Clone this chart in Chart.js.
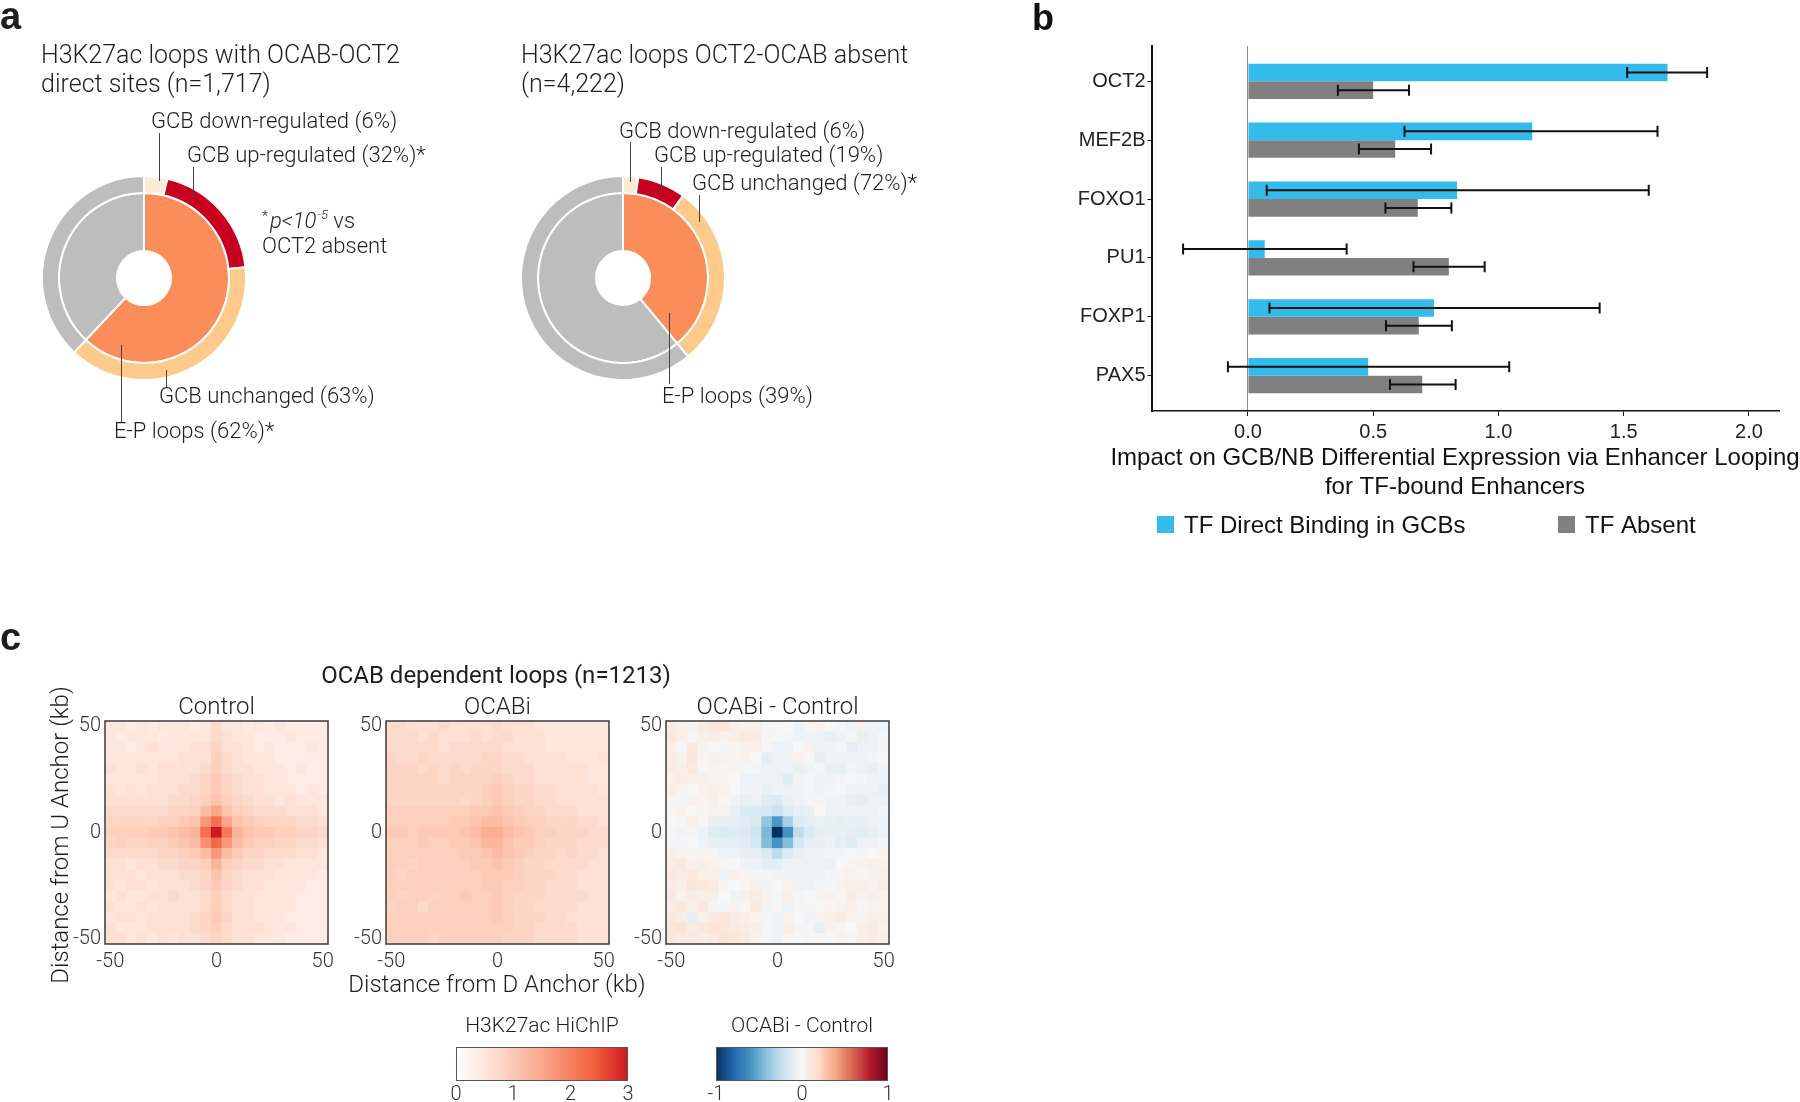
<!DOCTYPE html>
<html>
<head>
<meta charset="utf-8">
<title>OCAB-OCT2 looping</title>
<script src="https://cdn.jsdelivr.net/npm/chart.js@4.4.1/dist/chart.umd.min.js"></script>
<style>
  body { margin: 0; width: 1800px; height: 1102px; background: #fff; position: relative; overflow: hidden; }
  canvas { position: absolute; }
</style>
</head>
<body>
<canvas id="textC" width="920" height="420" style="left:0;top:600px"></canvas>
<canvas id="donutDirect" width="460" height="460" style="left:0;top:0"></canvas>
<canvas id="donutAbsent" width="480" height="460" style="left:460px;top:0"></canvas>
<canvas id="barsB" width="770" height="560" style="left:1030px;top:0"></canvas>
<canvas id="heatControl" width="270" height="310" style="left:65px;top:680px"></canvas>
<canvas id="heatOcabi" width="270" height="310" style="left:346px;top:680px"></canvas>
<canvas id="heatDiff" width="270" height="310" style="left:626px;top:680px"></canvas>
<canvas id="barRed" width="210" height="92" style="left:440px;top:1010px"></canvas>
<canvas id="barRdBu" width="210" height="92" style="left:700px;top:1010px"></canvas>
<script>
const LIGHT = 'Roboto';
const INK = '#1e1e1e';

// ---- panel a : loop categories (%) ----
const ringNames = ['GCB down-regulated', 'GCB up-regulated', 'GCB unchanged', 'not E-P'];
const epDirect = [62, 38];        // E-P loops, other loops
const gcbDirect = [6, 32, 63];    // down, up, unchanged (within E-P loops)
const epAbsent = [39, 61];
const gcbAbsent = [6, 19, 72];
const innerColors = ['#fa8d5a', '#bdbdbd'];
const outerColors = ['#fdebd5', '#c8001f', '#fdca8c', '#bdbdbd'];

// ---- panel b : impact on expression ----
const tfNames = ['OCT2', 'MEF2B', 'FOXO1', 'PU1', 'FOXP1', 'PAX5'];
const directMean = [1.675, 1.135, 0.835, 0.067, 0.743, 0.480];
const directLow  = [1.514, 0.625, 0.075, -0.259, 0.086, -0.080];
const directHigh = [1.833, 1.635, 1.600, 0.394, 1.404, 1.043];
const absentMean = [0.500, 0.588, 0.678, 0.802, 0.682, 0.696];
const absentLow  = [0.359, 0.443, 0.549, 0.661, 0.551, 0.567];
const absentHigh = [0.643, 0.731, 0.812, 0.945, 0.814, 0.829];
const xTicksB = [0, 0.5, 1, 1.5, 2];

// ---- panel c : aggregate peak analysis, 5 kb bins ----
const binCenters = [-50, -45, -40, -35, -30, -25, -20, -15, -10, -5, 0, 5, 10, 15, 20, 25, 30, 35, 40, 45, 50];
const axisTicksC = [-50, 0, 50];
// rows from top (U anchor +50) to bottom (-50); values in tenths
const controlTenths = [
  [5,5,4,5,4,5,5,5,4,5,7,5,5,4,5,4,5,4,4,4,4],
  [5,4,5,5,5,4,5,5,5,5,7,6,5,5,4,4,4,5,4,4,4],
  [5,5,4,5,6,5,5,5,6,6,8,6,6,5,4,5,4,4,4,5,4],
  [5,5,5,5,5,5,5,6,6,6,9,7,6,5,5,5,4,4,4,4,4],
  [6,5,5,6,5,6,6,6,6,7,9,7,6,6,5,5,5,4,5,4,4],
  [5,5,5,5,5,6,6,6,7,8,10,8,7,6,6,5,5,4,4,4,4],
  [6,5,6,5,6,6,6,7,7,8,10,8,7,6,6,5,5,5,4,5,4],
  [6,6,6,6,6,6,7,7,8,9,11,9,8,7,6,6,5,6,5,5,5],
  [7,7,7,7,7,7,8,8,9,12,15,11,9,8,7,7,7,6,6,6,5],
  [8,8,8,8,8,9,9,10,11,17,22,15,11,10,9,8,8,8,7,7,6],
  [9,9,9,9,10,10,11,12,13,22,30,21,13,11,10,10,9,9,8,8,7],
  [8,9,8,8,9,9,10,11,12,18,23,17,12,10,9,9,8,8,7,7,6],
  [7,7,7,7,7,8,8,9,10,12,17,12,10,8,8,7,7,7,6,6,5],
  [6,6,5,6,6,7,7,8,8,9,13,9,8,7,7,6,6,5,5,5,5],
  [6,6,6,5,6,6,6,7,7,8,11,8,7,6,6,6,5,5,5,5,4],
  [6,5,6,6,5,6,6,6,7,8,10,8,7,6,6,5,5,5,5,4,4],
  [5,6,5,5,6,6,7,6,6,7,9,7,6,6,5,5,5,5,4,4,4],
  [6,5,5,6,5,6,6,6,6,7,9,7,6,6,5,5,5,5,4,4,4],
  [5,6,6,5,6,6,6,6,7,8,10,8,6,6,5,5,5,4,4,4,4],
  [6,5,5,5,6,6,6,6,7,8,9,7,6,6,6,5,5,5,4,4,4],
  [6,6,5,6,5,6,5,6,6,7,8,7,6,6,5,5,5,4,4,4,4]
];
const ocabiTenths = [
  [7,7,6,6,6,7,6,6,6,6,7,6,6,6,5,5,5,5,5,5,5],
  [7,7,7,6,7,6,6,6,7,6,7,7,6,6,6,5,5,5,5,5,5],
  [7,7,7,7,7,6,7,7,7,7,7,6,6,6,6,5,5,5,5,5,5],
  [8,7,7,8,7,7,7,7,7,8,8,7,7,6,6,6,6,5,5,5,6],
  [8,8,8,7,8,7,8,7,8,8,8,7,7,7,6,6,6,6,6,5,5],
  [8,8,8,8,8,7,8,8,8,8,9,8,7,7,6,6,6,6,6,5,5],
  [8,8,8,8,8,8,8,8,8,9,10,9,8,8,7,7,6,6,6,6,5],
  [8,8,8,8,8,8,8,7,8,9,10,9,8,8,7,7,6,6,6,6,6],
  [9,9,9,9,9,9,9,9,10,10,11,10,9,8,8,7,7,7,6,6,6],
  [9,9,9,9,9,9,10,10,11,12,12,11,10,9,9,8,8,8,7,7,6],
  [10,10,9,10,10,10,10,11,12,14,14,12,11,10,9,9,8,8,8,7,7],
  [9,9,9,10,9,9,10,10,11,13,13,11,10,10,9,8,8,8,7,7,7],
  [9,9,9,9,9,9,9,10,10,11,12,11,10,9,8,8,7,8,7,7,6],
  [9,9,8,9,9,9,9,9,10,10,11,10,9,8,8,7,7,7,7,6,6],
  [9,8,9,9,9,9,9,9,9,10,10,10,9,8,8,8,7,7,6,6,6],
  [9,9,9,9,9,9,9,9,9,10,10,9,9,8,8,7,7,7,6,6,6],
  [9,8,9,9,8,9,9,10,9,9,10,9,8,8,8,7,7,7,7,6,6],
  [8,9,9,7,9,9,9,9,9,9,10,9,8,8,7,7,7,7,6,6,6],
  [9,9,9,9,9,9,9,9,9,9,10,9,8,8,8,7,7,6,6,6,6],
  [9,9,9,9,9,9,9,9,9,9,9,9,8,8,7,7,7,7,6,6,6],
  [9,9,9,9,8,9,9,9,9,9,9,8,8,8,7,7,7,7,6,6,6]
];
// OCABi - Control, values in hundredths
const diffHundredths = [
  [8,6,4,8,12,12,6,4,6,2,-2,0,-6,2,4,0,-2,-4,4,-4,-6],
  [10,6,2,6,8,4,6,10,8,2,0,-2,-4,-4,-6,-8,-4,-2,-8,-4,-2],
  [6,-2,10,4,0,-2,2,4,6,2,-6,-4,0,4,-6,-4,-2,-10,-6,-4,-2],
  [8,4,12,2,6,4,2,4,0,-10,-6,-4,4,-2,-8,-4,-6,-6,-4,-2,0],
  [8,6,10,2,4,2,2,-2,-2,-4,-6,-4,-8,-4,-2,-8,-8,-2,-6,-8,-4],
  [4,8,6,6,4,2,0,-6,-6,-4,-6,-12,-4,-2,-4,-4,-2,0,-2,-4,-6],
  [6,2,0,4,6,4,0,-4,-4,-8,-6,-6,-4,-2,-4,-2,0,-4,-6,-6,-8],
  [2,-2,4,2,6,2,-4,-8,-6,-12,-14,-8,-6,-2,2,-4,-4,-8,-10,-4,-6],
  [2,4,0,2,4,4,-8,-14,-16,-18,-22,-14,-10,-8,0,-4,-6,-4,-6,-4,-2],
  [0,-2,6,-2,-8,-8,-10,-12,-16,-40,-58,-33,-14,-10,-8,-8,-10,-8,-10,-6,-4],
  [-2,-4,-2,-6,-12,-14,-12,-14,-20,-45,-100,-60,-25,-14,-10,-8,-8,-10,-12,-8,-6],
  [-2,-2,0,-4,-8,-10,-10,-12,-18,-43,-60,-43,-18,-10,-8,-6,-10,-12,-6,-4,-2],
  [6,4,2,2,-2,-4,-4,-8,-10,-15,-26,-14,-8,-4,-4,-2,-2,0,-2,0,2],
  [8,10,4,6,4,2,0,-4,-6,-10,-10,-6,-4,-6,-4,-6,0,2,4,6,4],
  [10,8,10,6,6,-4,4,2,-2,-2,-4,-6,-4,-4,-4,-2,2,4,2,4,6],
  [8,6,12,10,8,2,0,2,6,-4,0,4,-4,-4,-2,-2,4,6,6,4,8],
  [10,4,8,6,6,0,-4,6,8,4,-2,6,-2,0,2,4,2,8,4,6,4],
  [8,10,6,10,2,-2,4,2,10,-4,2,-6,2,-2,0,2,4,6,2,4,4],
  [10,8,-10,6,10,12,8,6,2,-2,-4,4,0,-4,4,6,8,4,2,6,6],
  [12,14,8,12,14,12,10,8,6,-2,-6,6,2,-2,-8,4,2,0,6,8,4],
  [12,10,10,8,10,14,12,10,4,-2,-6,2,0,-2,2,-2,4,2,6,8,6]
];
const redStops = [[0, '#ffffff'], [0.5, '#fee6dc'], [1, '#fccab5'], [1.5, '#faa78b'], [2, '#f7805f'], [2.4, '#f2603f'], [3, '#cb181d']];
const rdbuStops = [[-1, '#053061'], [-0.8, '#2166ac'], [-0.6, '#4393c3'], [-0.4, '#92c5de'], [-0.2, '#d1e5f0'], [0, '#f7f7f7'],
                   [0.2, '#fddbc7'], [0.4, '#f4a582'], [0.6, '#d6604d'], [0.8, '#b2182b'], [1, '#67001f']];

function hexRgb(h) {
  const n = parseInt(h.slice(1), 16);
  return [(n >> 16) & 255, (n >> 8) & 255, n & 255];
}
function colorAt(stops, v) {
  if (v <= stops[0][0]) return stops[0][1];
  for (let i = 1; i < stops.length; i++) {
    if (v <= stops[i][0]) {
      const [a, ca] = stops[i - 1], [b, cb] = stops[i];
      const t = (v - a) / (b - a), p = hexRgb(ca), q = hexRgb(cb);
      return 'rgb(' + p.map((x, k) => Math.round(x + (q[k] - x) * t)).join(',') + ')';
    }
  }
  return stops[stops.length - 1][1];
}

// outer ring: GCB split of the E-P share, then the non E-P share
function outerRing(ep, gcb) {
  const total = gcb.reduce((s, v) => s + v, 0);
  return gcb.map(v => v / total * ep[0]).concat([ep[1]]);
}

function notesPlugin(notes) {
  return {
    id: 'notes',
    afterDraw(chart) {
      const ctx = chart.ctx;
      ctx.save();
      ctx.strokeStyle = '#444';
      ctx.lineWidth = 1;
      notes.lines.forEach(([x, y1, y2]) => {
        ctx.beginPath(); ctx.moveTo(x + 0.5, y1); ctx.lineTo(x + 0.5, y2); ctx.stroke();
      });
      ctx.fillStyle = INK;
      ctx.textBaseline = 'alphabetic';
      notes.texts.forEach(t => { ctx.font = t.font; ctx.fillText(t.s, t.x, t.y); });
      if (notes.extra) notes.extra(ctx);
      ctx.restore();
    }
  };
}

function donut(id, ep, gcb, pad, notes) {
  return new Chart(document.getElementById(id), {
    type: 'doughnut',
    data: {
      labels: ringNames,
      datasets: [
        { data: outerRing(ep, gcb), backgroundColor: outerColors, borderColor: '#fff', borderWidth: 2, weight: 17 },
        { data: ep, backgroundColor: innerColors, borderColor: '#fff', borderWidth: 2, weight: 58 }
      ]
    },
    options: {
      responsive: false, animation: false, events: [],
      cutout: '26.5%',
      layout: { padding: pad },
      plugins: { legend: { display: false }, tooltip: { enabled: false } }
    },
    plugins: [notesPlugin(notes)]
  });
}

const T25 = '300 25px ' + LIGHT, T22 = '300 22px ' + LIGHT;

donut('donutDirect', epDirect, gcbDirect, { left: 41, top: 175, right: 213, bottom: 79 }, {
  lines: [[159, 133, 181], [193, 167, 197], [166, 370, 388], [121, 345, 422]],
  texts: [
    { s: 'a', x: 0, y: 29, font: 'bold 38px "Liberation Sans"' },
    { s: 'H3K27ac loops with OCAB-OCT2', x: 41, y: 63, font: T25 },
    { s: 'direct sites (n=1,717)', x: 41, y: 92, font: T25 },
    { s: 'GCB down-regulated (' + gcbDirect[0] + '%)', x: 151, y: 128, font: T22 },
    { s: 'GCB up-regulated (' + gcbDirect[1] + '%)*', x: 187, y: 162, font: T22 },
    { s: 'OCT2 absent', x: 262, y: 253, font: T22 },
    { s: 'GCB unchanged (' + gcbDirect[2] + '%)', x: 159, y: 403, font: T22 },
    { s: 'E-P loops (' + epDirect[0] + '%)*', x: 114, y: 438, font: T22 }
  ],
  extra(ctx) {
    let x = 262;
    const y = 228;
    ctx.font = '300 14px ' + LIGHT; ctx.fillText('*', x, y - 7); x += ctx.measureText('*').width + 2;
    ctx.font = 'italic 300 22px ' + LIGHT; ctx.fillText('p<10', x, y); x += ctx.measureText('p<10').width + 1;
    ctx.font = 'italic 300 13px ' + LIGHT; ctx.fillText('-5', x, y - 9); x += ctx.measureText('-5').width;
    ctx.font = T22; ctx.fillText(' vs', x, y);
  }
});

donut('donutAbsent', epAbsent, gcbAbsent, { left: 60, top: 175, right: 214, bottom: 79 }, {
  lines: [[170, 142, 182], [201, 167, 193], [239, 195, 222], [209, 313, 384]],
  texts: [
    { s: 'H3K27ac loops OCT2-OCAB absent', x: 61, y: 63, font: T25 },
    { s: '(n=4,222)', x: 61, y: 92, font: T25 },
    { s: 'GCB down-regulated (' + gcbAbsent[0] + '%)', x: 159, y: 138, font: T22 },
    { s: 'GCB up-regulated (' + gcbAbsent[1] + '%)', x: 194, y: 162, font: T22 },
    { s: 'GCB unchanged (' + gcbAbsent[2] + '%)*', x: 232, y: 190, font: T22 },
    { s: 'E-P loops (' + epAbsent[0] + '%)', x: 202, y: 403, font: T22 }
  ]
});

// ---- panel b ----
const bFont = { family: 'Liberation Sans', size: 20 };
const errorRanges = [[directLow, directHigh], [absentLow, absentHigh]];

const panelB = {
  id: 'panelB',
  afterDatasetsDraw(chart) {
    const ctx = chart.ctx, xs = chart.scales.x;
    ctx.save();
    ctx.strokeStyle = '#111';
    ctx.lineWidth = 2;
    chart.data.datasets.forEach((ds, di) => {
      chart.getDatasetMeta(di).data.forEach((bar, i) => {
        const x1 = xs.getPixelForValue(errorRanges[di][0][i]);
        const x2 = xs.getPixelForValue(errorRanges[di][1][i]);
        const y = bar.y;
        ctx.beginPath();
        ctx.moveTo(x1, y); ctx.lineTo(x2, y);
        ctx.moveTo(x1, y - 5.5); ctx.lineTo(x1, y + 5.5);
        ctx.moveTo(x2, y - 5.5); ctx.lineTo(x2, y + 5.5);
        ctx.stroke();
      });
    });
    ctx.restore();
  },
  afterDraw(chart) {
    const ctx = chart.ctx;
    ctx.save();
    ctx.fillStyle = '#111';
    ctx.font = 'bold 36px "Liberation Sans"';
    ctx.fillText('b', 2, 30);
    ctx.font = '24px "Liberation Sans"';
    ctx.textAlign = 'center';
    ctx.fillText('Impact on GCB/NB Differential Expression via Enhancer Looping', 425, 465);
    ctx.fillText('for TF-bound Enhancers', 425, 494);
    ctx.textAlign = 'left';
    const legendX = [127, 528];
    chart.data.datasets.forEach((ds, i) => {
      ctx.fillStyle = ds.backgroundColor;
      ctx.fillRect(legendX[i], 516, 17, 17);
      ctx.fillStyle = '#111';
      ctx.fillText(ds.label, legendX[i] + 27, 533);
    });
    ctx.restore();
  }
};

new Chart(document.getElementById('barsB'), {
  type: 'bar',
  data: {
    datasets: [
      { label: 'TF Direct Binding in GCBs', data: directMean.map((v, i) => ({ x: v, y: i })),
        backgroundColor: '#33bbeb', categoryPercentage: 0.6, barPercentage: 1 },
      { label: 'TF Absent', data: absentMean.map((v, i) => ({ x: v, y: i })),
        backgroundColor: '#808080', categoryPercentage: 0.6, barPercentage: 1 }
    ]
  },
  options: {
    indexAxis: 'y',
    responsive: false, animation: false, events: [],
    layout: { padding: { top: 46, right: 21, left: 0, bottom: 0 } },
    scales: {
      x: {
        type: 'linear', min: -0.385, max: 2.12,
        afterBuildTicks: s => { s.ticks = xTicksB.map(v => ({ value: v })); },
        afterFit: s => { s.height = 149; s.paddingLeft = 0; s.paddingRight = 0; },
        ticks: { font: bFont, color: '#222', padding: 4, maxRotation: 0, callback: v => v.toFixed(1) },
        grid: { color: c => (c.tick && c.tick.value === 0) ? '#8c8c8c' : 'rgba(0,0,0,0)', tickColor: '#111', tickLength: 5, lineWidth: 1 },
        border: { display: true, color: '#111', width: 1.5 }
      },
      y: {
        type: 'linear', reverse: true, min: -0.6, max: 5.6, offset: false,
        afterBuildTicks: s => { s.ticks = tfNames.map((n, i) => ({ value: i })); },
        afterFit: s => { s.width = 121.5; s.paddingTop = 0; s.paddingBottom = 0; },
        ticks: { font: bFont, color: '#222', padding: 2, callback: v => tfNames[v] },
        grid: { offset: false, drawOnChartArea: false, tickColor: '#111', tickLength: 4 },
        border: { display: true, color: '#111', width: 2 }
      }
    },
    plugins: { legend: { display: false }, tooltip: { enabled: false } }
  },
  plugins: [panelB]
});

// ---- panel c ----
function heatmap(id, matrix, unit, stops, title) {
  const points = [];
  matrix.forEach((row, r) => row.forEach((v, c) => {
    points.push({ x: binCenters[c], y: binCenters[binCenters.length - 1 - r], v: v / unit });
  }));
  const cellRadius = c => {
    const xs = c.chart.scales.x;
    return (Math.abs(xs.getPixelForValue(5) - xs.getPixelForValue(0)) + 0.6) / Math.SQRT2;
  };
  const tickFont = { family: LIGHT, size: 20, weight: 300 };
  return new Chart(document.getElementById(id), {
    type: 'scatter',
    data: {
      datasets: [{
        data: points,
        pointStyle: 'rect',
        pointRadius: cellRadius,
        pointHoverRadius: cellRadius,
        pointBorderWidth: 0,
        pointBackgroundColor: c => colorAt(stops, c.raw.v)
      }]
    },
    options: {
      responsive: false, animation: false, events: [],
      layout: { padding: { top: 41, right: 7, left: 0, bottom: 0 } },
      scales: {
        x: {
          type: 'linear', min: -52.5, max: 52.5,
          afterBuildTicks: s => { s.ticks = axisTicksC.map(v => ({ value: v })); },
          afterFit: s => { s.height = 46; s.paddingLeft = 0; s.paddingRight = 0; },
          grid: { display: false, drawTicks: false }, border: { display: false },
          ticks: { font: tickFont, color: '#333', padding: 6, maxRotation: 0, autoSkip: false }
        },
        y: {
          type: 'linear', min: -52.5, max: 52.5,
          afterBuildTicks: s => { s.ticks = axisTicksC.map(v => ({ value: v })); },
          afterFit: s => { s.width = 40; s.paddingTop = 0; s.paddingBottom = 0; },
          grid: { display: false, drawTicks: false }, border: { display: false },
          ticks: { font: tickFont, color: '#333', padding: 4, autoSkip: false }
        }
      },
      plugins: { legend: { display: false }, tooltip: { enabled: false } }
    },
    plugins: [{
      id: 'frame',
      afterDatasetsDraw(chart) {
        const a = chart.chartArea, ctx = chart.ctx;
        ctx.save();
        ctx.strokeStyle = '#3a3a3a';
        ctx.lineWidth = 1.5;
        ctx.strokeRect(a.left, a.top, a.right - a.left, a.bottom - a.top);
        ctx.font = '300 24px ' + LIGHT;
        ctx.fillStyle = INK;
        ctx.textAlign = 'center';
        ctx.fillText(title, (a.left + a.right) / 2, a.top - 7);
        ctx.restore();
      }
    }]
  });
}

heatmap('heatControl', controlTenths, 10, redStops, 'Control');
heatmap('heatOcabi', ocabiTenths, 10, redStops, 'OCABi');
heatmap('heatDiff', diffHundredths, 100, rdbuStops, 'OCABi - Control');

function colorbar(id, stops, ticks, title) {
  const lo = ticks[0], hi = ticks[ticks.length - 1];
  return new Chart(document.getElementById(id), {
    type: 'bar',
    data: {
      labels: [title],
      datasets: [{
        data: [[lo, hi]], barPercentage: 1, categoryPercentage: 1, borderWidth: 0,
        backgroundColor: c => {
          const a = c.chart.chartArea;
          if (!a) return '#fff';
          const g = c.chart.ctx.createLinearGradient(a.left, 0, a.right, 0);
          stops.forEach(([v, col]) => g.addColorStop((v - lo) / (hi - lo), col));
          return g;
        }
      }]
    },
    options: {
      indexAxis: 'y',
      responsive: false, animation: false, events: [],
      layout: { padding: { top: 37, left: 16, right: 22, bottom: 0 } },
      scales: {
        x: {
          type: 'linear', min: lo, max: hi,
          afterBuildTicks: s => { s.ticks = ticks.map(v => ({ value: v })); },
          afterFit: s => { s.height = 21; s.paddingLeft = 0; s.paddingRight = 0; },
          grid: { display: false, drawTicks: false }, border: { display: false },
          ticks: { font: { family: LIGHT, size: 20, weight: 300 }, color: '#333', padding: 2 }
        },
        y: { display: false }
      },
      plugins: { legend: { display: false }, tooltip: { enabled: false } }
    },
    plugins: [{
      id: 'cbFrame',
      afterDatasetsDraw(chart) {
        const a = chart.chartArea, ctx = chart.ctx;
        ctx.save();
        ctx.strokeStyle = '#555';
        ctx.lineWidth = 1;
        ctx.strokeRect(a.left + 0.5, a.top + 0.5, a.right - a.left - 1, a.bottom - a.top - 1);
        ctx.font = '300 21px ' + LIGHT;
        ctx.fillStyle = INK;
        ctx.textAlign = 'center';
        ctx.fillText(title, (a.left + a.right) / 2, a.top - 15);
        ctx.restore();
      }
    }]
  });
}

colorbar('barRed', redStops, [0, 1, 2, 3], 'H3K27ac HiChIP');
colorbar('barRdBu', rdbuStops, [-1, 0, 1], 'OCABi - Control');

// loose panel c text
const tc = document.getElementById('textC').getContext('2d');
tc.fillStyle = INK;
tc.font = 'bold 38px "Liberation Sans"';
tc.fillText('c', 0, 50);
tc.textAlign = 'center';
tc.font = '400 24px ' + LIGHT;
tc.fillText('OCAB dependent loops (n=1213)', 496, 83);
tc.font = '300 24px ' + LIGHT;
tc.fillText('Distance from D Anchor (kb)', 497, 392);
tc.save();
tc.translate(68, 235);
tc.rotate(-Math.PI / 2);
tc.fillText('Distance from U Anchor (kb)', 0, 0);
tc.restore();
</script>
</body>
</html>
